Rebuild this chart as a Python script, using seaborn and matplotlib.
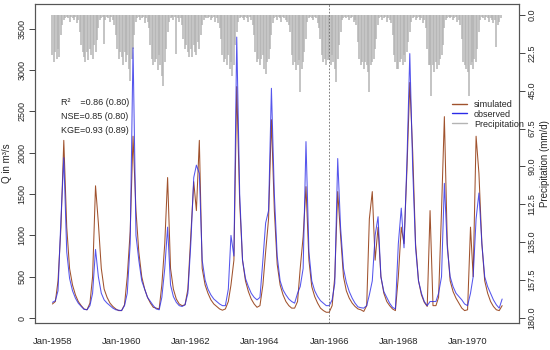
import pandas as pd
import matplotlib
matplotlib.use("Agg")
import matplotlib.pyplot as plt
import matplotlib.dates as mdates
from matplotlib.lines import Line2D
import seaborn as sns

# monthly discharge in m3/s, Jan-1958 ... Jan-1971
obs_q = [
    190, 210, 330, 1200, 1940, 800, 480, 330, 240, 180, 140, 105,
    100, 150, 300, 830, 500, 300, 220, 180, 150, 120, 100, 95,
    90, 150, 300, 900, 3270, 1000, 700, 450, 350, 250, 200, 150,
    110, 100, 250, 600, 1100, 400, 260, 190, 150, 140, 160, 300,
    900, 1700, 1850, 1750, 700, 460, 350, 280, 230, 200, 170, 150,
    150, 350, 1000, 750, 3400, 1500, 700, 480, 380, 300, 250, 220,
    250, 700, 1150, 1300, 2780, 1500, 750, 450, 340, 280, 230, 200,
    180, 300, 380, 600, 2135, 800, 450, 330, 260, 210, 180, 150,
    150, 220, 420, 1930, 1100, 600, 430, 320, 240, 180, 135, 125,
    120, 150, 280, 450, 1000, 1226, 500, 320, 250, 180, 130, 110,
    900, 1330, 850, 1900, 3200, 1800, 850, 450, 300, 200, 150, 200,
    200, 200, 300, 500, 1630, 850, 500, 380, 300, 260, 220, 170,
    150, 300, 500, 1200, 1513, 900, 500, 380, 300, 220, 160, 120,
    230,
]
sim_q = [
    170, 200, 450, 1100, 2150, 1100, 600, 400, 280, 200, 150, 110,
    100, 180, 500, 1600, 1150, 600, 350, 250, 180, 140, 110, 90,
    90, 160, 500, 1050, 2200, 1300, 800, 500, 350, 250, 180, 130,
    120, 110, 400, 900, 1700, 600, 350, 230, 170, 150, 160, 350,
    1000, 1650, 1300, 2150, 600, 400, 300, 220, 170, 140, 110, 95,
    110, 200, 400, 700, 2800, 1400, 700, 450, 320, 230, 170, 130,
    150, 400, 800, 1200, 2400, 1300, 650, 400, 280, 200, 150, 120,
    120, 200, 600, 985, 1590, 700, 380, 260, 180, 120, 90, 70,
    70, 150, 500, 1530, 1000, 500, 330, 240, 180, 140, 110, 100,
    80, 150, 1200, 1530, 700, 1100, 500, 300, 200, 150, 110, 90,
    500, 1100, 900, 1800, 2850, 2000, 900, 450, 280, 190, 140, 1300,
    150, 150, 250, 1300, 2437, 900, 450, 320, 240, 180, 120, 90,
    100, 1100, 500, 2200, 1750, 900, 450, 300, 200, 140, 100, 90,
    150,
]
months = pd.date_range("1958-01-01", periods=len(obs_q), freq="MS")

# half-monthly precipitation in mm/d, 1958 ... 1970
precip = [
    24, 28, 22, 26, 20, 25, 12, 6, 3, 2, 1, 2, 4, 1, 2, 3, 1, 5, 3, 10, 18, 22, 25, 28,
    22, 27, 20, 24, 26, 18, 22, 15, 8, 3, 2, 1, 17, 3, 1, 2, 4, 1, 3, 6, 12, 20, 26, 22,
    25, 30, 22, 28, 24, 32, 39, 26, 20, 12, 4, 2, 1, 3, 2, 1, 5, 2, 4, 8, 18, 26, 30, 28,
    26, 33, 24, 30, 36, 42, 28, 20, 10, 4, 2, 1, 3, 1, 23, 2, 4, 2, 6, 14, 20, 18, 22, 25,
    20, 25, 18, 22, 24, 16, 20, 12, 6, 3, 1, 2, 2, 1, 3, 2, 1, 4, 2, 5, 8, 14, 24, 28,
    26, 30, 24, 32, 28, 36, 30, 18, 10, 4, 2, 1, 2, 3, 1, 2, 4, 1, 3, 6, 12, 22, 28, 26,
    30, 26, 24, 32, 35, 28, 26, 20, 12, 5, 2, 1, 3, 1, 2, 4, 1, 2, 3, 4, 6, 10, 24, 30,
    28, 33, 30, 27, 46, 32, 28, 22, 14, 4, 2, 1, 2, 3, 1, 2, 5, 8, 14, 24, 28, 26, 30, 27,
    26, 30, 24, 28, 32, 40, 26, 18, 10, 3, 2, 1, 2, 1, 3, 2, 1, 4, 3, 6, 16, 26, 30, 28,
    32, 28, 30, 34, 46, 30, 28, 26, 20, 14, 6, 2, 1, 3, 2, 1, 4, 2, 3, 5, 12, 24, 28, 32,
    32, 28, 26, 30, 24, 28, 22, 16, 10, 4, 2, 1, 3, 2, 1, 3, 2, 5, 3, 8, 20, 30, 30, 48,
    30, 34, 28, 32, 30, 26, 24, 18, 8, 3, 2, 1, 2, 1, 3, 2, 1, 4, 3, 6, 14, 28, 30, 32,
    34, 48, 30, 28, 32, 26, 28, 20, 10, 3, 1, 2, 3, 1, 2, 4, 2, 3, 5, 3, 19, 6, 4, 2,
]
precip_dates = pd.date_range("1958-01-01", periods=len(precip), freq="SMS")

stats = ["R\u00b2    =0.86 (0.80)", "NSE=0.85 (0.80)", "KGE=0.93 (0.89)"]
q_ticks = [0, 500, 1000, 1500, 2000, 2500, 3000, 3500]
p_ticks = [0.0, 22.5, 45.0, 67.5, 90.0, 112.5, 135.0, 157.5, 180.0]

sim_col = "#A0522D"
obs_col = "#2B2BE8"
pr_col = "#B4B4B4"

sns.set_style("white")
plt.rcParams["font.family"] = ["Liberation Sans", "DejaVu Sans"]
fs = 6.5

fig = plt.figure(figsize=(5.5, 3.5), dpi=100)
ax = fig.add_axes([35 / 550, 1 - 323 / 350, 484 / 550, 319 / 350])
ax2 = ax.twinx()

# precipitation hanging from the top, inverted axis
ax2.vlines(precip_dates, 0, precip, color=pr_col, lw=1.1)
ax2.set_ylim(183, -6.5)
ax2.set_yticks(p_ticks)
ax2.set_yticklabels([f"{v:.1f}" for v in p_ticks], rotation=90, va="center", fontsize=fs)
ax2.set_ylabel("Precipitation (mm/d)", fontsize=fs + 0.5, labelpad=3)

ax.set_zorder(ax2.get_zorder() + 1)
ax.patch.set_visible(False)

df_sim = pd.DataFrame({"date": months, "Q": sim_q})
df_obs = pd.DataFrame({"date": months, "Q": obs_q})
sns.lineplot(data=df_sim, x="date", y="Q", ax=ax, color=sim_col, lw=0.75)
sns.lineplot(data=df_obs, x="date", y="Q", ax=ax, color=obs_col, lw=0.75, alpha=0.8)

ax.axvline(pd.Timestamp("1966-01-01"), color="#666666", ls=(0, (2, 2)), lw=0.6)

ax.set_xlim(pd.Timestamp("1957-07-01"), pd.Timestamp("1971-06-28"))
ax.set_ylim(-60, 3800)
ax.set_yticks(q_ticks)
ax.set_yticklabels([str(v) for v in q_ticks], rotation=90, va="center", fontsize=fs)
ax.set_ylabel("Q in m\u00b3/s", fontsize=fs + 0.5, labelpad=4)
ax.set_xlabel("")

ax.xaxis.set_major_locator(mdates.YearLocator(1))
ax.xaxis.set_minor_locator(mdates.MonthLocator())
ax.xaxis.set_major_formatter(
    plt.FuncFormatter(lambda v, p: mdates.num2date(v).strftime("%b-%Y")
                      if mdates.num2date(v).year % 2 == 0 else ""))
ax.tick_params(axis="x", which="major", length=4, width=0.6, labelsize=fs + 0.3, pad=6)
ax.tick_params(axis="x", which="minor", length=2, width=0.4)
ax.tick_params(axis="y", length=4, width=0.6, pad=2)
ax2.tick_params(axis="y", length=4, width=0.6, pad=2)

for a in (ax, ax2):
    for s in a.spines.values():
        s.set_color("#555555")
        s.set_linewidth(0.8)

for i, s in enumerate(stats):
    ax.text(0.054, 0.69 - i * 0.043, s, transform=ax.transAxes, fontsize=fs,
            va="center", ha="left")

handles = [Line2D([], [], color=sim_col, lw=1.0),
           Line2D([], [], color=obs_col, lw=1.0),
           Line2D([], [], color=pr_col, lw=1.0)]
ax.legend(handles, ["simulated", "observed", "Precipitation"], loc="upper left",
          bbox_to_anchor=(0.862, 0.70), frameon=False, fontsize=fs,
          handlelength=1.6, handletextpad=0.8, labelspacing=0.1, borderpad=0,
          borderaxespad=0)

fig.savefig("out.png", dpi=100)
